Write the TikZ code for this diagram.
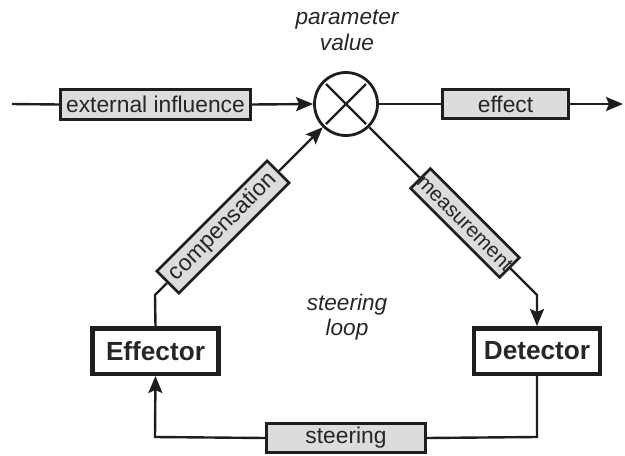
\documentclass[tikz,border=0pt]{standalone}
\usepackage{fontspec}
\setmainfont{Liberation Sans}
\usetikzlibrary{arrows.meta}

\definecolor{ink}{HTML}{1E1E1E}
\definecolor{txt}{HTML}{262626}
\definecolor{tagfill}{HTML}{DCDCDC}

\begin{document}
\begin{tikzpicture}[x=1pt,y=-1pt,
  wire/.style={line width=2.4pt, draw=ink},
  tip/.style={-{Stealth[length=17pt,width=14pt,inset=3pt]}},
  tag/.style={draw=ink, fill=tagfill, line width=2.6pt, inner sep=0pt,
    text=txt, font=\fontsize{22.8}{26}\selectfont},
  unit/.style={draw=ink, fill=white, line width=4.5pt, inner sep=0pt,
    minimum width=126pt, minimum height=45.5pt, text=txt,
    font=\fontsize{26.2}{30}\selectfont\bfseries},
  note/.style={align=center, text=txt,
    font=\fontsize{22.6}{25.5}\selectfont\itshape}
]
\useasboundingbox (0,0) rectangle (625,456);

% multiplier junction
\node[circle, draw=ink, line width=2.8pt, minimum size=63pt, inner sep=0pt]
  (mult) at (346,104) {};
\draw[line width=2.4pt, ink] ([shift={(-20,-20)}]mult.center) -- ([shift={(20,20)}]mult.center);
\draw[line width=2.4pt, ink] ([shift={(-20,20)}]mult.center) -- ([shift={(20,-20)}]mult.center);

% signal blocks on the main line
\node[tag, minimum width=190pt, minimum height=30pt] (ext) at (155.5,104.5) {external influence};
\node[tag, minimum width=126pt, minimum height=29pt] (out) at (505.5,104) {effect};

% loop blocks
\node[unit] (eff) at (155.5,351) {Effector};
\node[unit] (det) at (537,351) {Detector};
\node[tag, minimum width=159pt, minimum height=29pt] (steer) at (346,438) {steering};
\node[tag, rotate=45, minimum width=156pt, minimum height=31pt] (comp) at (223,227) {compensation};
\node[tag, rotate=-45, minimum width=125pt, minimum height=28pt,
  font=\fontsize{20.6}{24}\selectfont] (meas) at (465,223) {measurement};

% free ends and bends
\coordinate (src) at (12,104);
\coordinate (snk) at (623,104);
\coordinate (cbend) at (155,295);
\coordinate (mbend) at (537,295);
\coordinate (sr) at (537,437);
\coordinate (sl) at (155,437);

% main signal path
\draw[wire] (src) -- (ext.west);
\draw[wire, tip] (ext.east) -- (mult.west);
\draw[wire] (mult.east) -- (out.west);
\draw[wire, tip] (out.east) -- (snk);

% steering loop
\draw[wire] (mult.-45) -- (meas.west);
\draw[wire, tip] (meas.east) -- (mbend) -- (det.north);
\draw[wire] (det.south) -- (sr) -- (steer.east);
\draw[wire, tip] (steer.west) -- (sl) -- (eff.south);
\draw[wire] (eff.north) -- (cbend) -- (comp.west);
\draw[wire, tip] (comp.east) -- (mult.225);

% annotations
\node[note] (param) at (347,30.5) {parameter\\value};
\node[note] (loop) at (347,317) {steering\\loop};
\end{tikzpicture}
\end{document}
